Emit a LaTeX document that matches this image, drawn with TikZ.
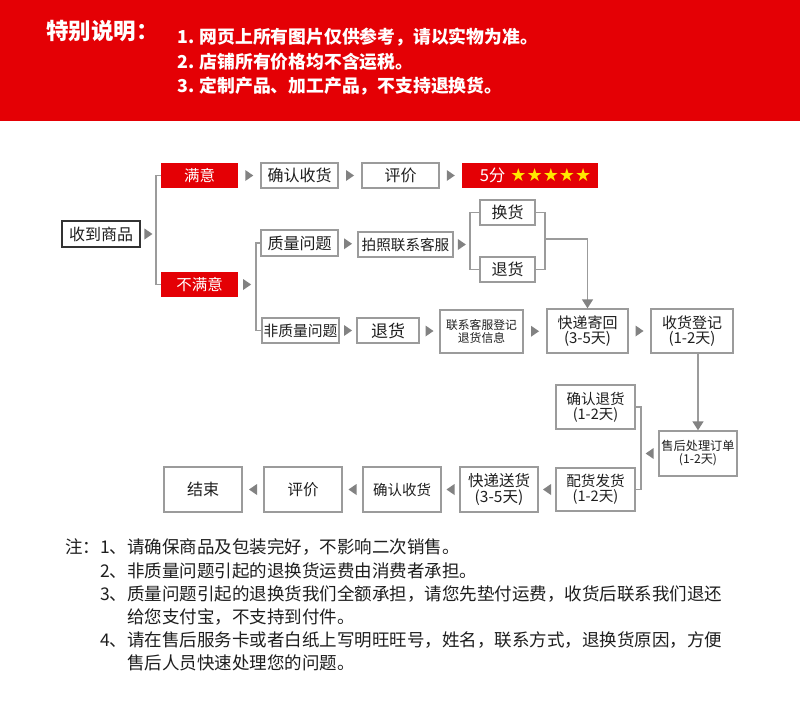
\documentclass[tikz,border=0pt]{standalone}
\usepackage{fontspec}
\setmainfont{Noto Sans CJK SC}
\newfontfamily\dejavu{DejaVu Sans}
\usetikzlibrary{arrows.meta}
\definecolor{hdred}{RGB}{228,0,5}
\definecolor{lngray}{RGB}{155,155,155}
\definecolor{tipgray}{RGB}{130,130,130}
\definecolor{txt}{RGB}{30,30,30}
\definecolor{stary}{RGB}{255,232,0}
\tikzset{
  box/.style={draw=lngray, line width=1.4pt, fill=white, text=txt, inner sep=0pt, align=center, font=\fontsize{15}{15}\selectfont},
  redbox/.style={fill=hdred, text=white, inner sep=0pt, font=\fontsize{15.5}{16}\selectfont},
  conn/.style={draw=lngray, line width=1.4pt},
  downtip/.style={-{Triangle[width=11pt,length=9pt,color=tipgray]}},
  pics/rtri/.style={code={\fill[tipgray] (-4,-5.5) -- (4,0) -- (-4,5.5) -- cycle;}},
  pics/ltri/.style={code={\fill[tipgray] (4,-5.5) -- (-4,0) -- (4,5.5) -- cycle;}},
  hdtext/.style={anchor=west, text=white, inner sep=0pt, font=\fontsize{17.8}{18}\selectfont\bfseries},
  note/.style={anchor=west, text=txt, inner sep=0pt, font=\fontsize{17.5}{18}\selectfont},
}
\begin{document}
\begin{tikzpicture}[x=1pt,y=-1pt]
\useasboundingbox (0,0) rectangle (800,704);
\fill[white] (0,0) rectangle (800,704);
% header
\fill[hdred] (0,0) rectangle (800,121);
\node[anchor=west, text=white, inner sep=0pt, font=\fontsize{22.5}{23}\selectfont\bfseries] (title) at (46,31) {特别说明：};
\node[hdtext] (h1) at (177,37) {1. 网页上所有图片仅供参考，请以实物为准。};
\node[hdtext] (h2) at (177,62) {2. 店铺所有价格均不含运税。};
\node[hdtext] (h3) at (177,86) {3. 定制产品、加工产品，不支持退换货。};

% row 1
\node[box, draw=black!80, line width=1.8pt, minimum width=78pt, minimum height=26pt, font=\fontsize{16}{16}\selectfont] (recv) at (101,234) {收到商品};
\node[redbox, minimum width=77pt, minimum height=25pt] (manyi) at (199.5,175.5) {满意};
\node[redbox, minimum width=77pt, minimum height=25pt] (buman) at (199.5,284.5) {不满意};
\node[box, minimum width=77pt, minimum height=25pt, font=\fontsize{16}{16}\selectfont] (qrsh1) at (299.5,175.5) {确认收货};
\node[box, minimum width=77pt, minimum height=25pt, font=\fontsize{16}{16}\selectfont] (pj1) at (400.5,175.5) {评价};
\node[redbox, minimum width=136pt, minimum height=25pt] (five) at (530,175.5) {\hspace*{11pt}\fontsize{16.5}{16}\selectfont 5分\hspace{5pt}{\dejavu\color{stary}\fontsize{18}{16}\selectfont ★★★★★}};

% quality branch
\node[box, minimum width=77pt, minimum height=26pt, font=\fontsize{16}{16}\selectfont] (zl) at (299.5,243) {质量问题};
\node[box, minimum width=95pt, minimum height=25pt, font=\fontsize{14.6}{15}\selectfont] (pz) at (405.5,244.5) {拍照联系客服};
\node[box, minimum width=55pt, minimum height=25pt, font=\fontsize{16}{16}\selectfont] (hh) at (507.5,212.5) {换货};
\node[box, minimum width=55pt, minimum height=25pt, font=\fontsize{16}{16}\selectfont] (th1) at (507.5,269.5) {退货};

% non-quality branch
\node[box, minimum width=77pt, minimum height=25pt, font=\fontsize{14.8}{15}\selectfont] (fzl) at (300.5,330.5) {非质量问题};
\node[box, minimum width=62pt, minimum height=25pt, font=\fontsize{17}{17}\selectfont] (th2) at (388,330.5) {退货};
\node[box, minimum width=83pt, minimum height=43pt, font=\fontsize{11.8}{13}\selectfont] (lx) at (481.5,331.5) {联系客服登记\\退货信息};
\node[box, minimum width=81pt, minimum height=44pt] (kdjh) at (587.5,331) {快递寄回\\(3-5天)};
\node[box, minimum width=82pt, minimum height=44pt] (shdj) at (692,331) {收货登记\\(1-2天)};

% return path
\node[box, minimum width=78pt, minimum height=45pt, font=\fontsize{12.2}{13}\selectfont] (shcl) at (698,453.5) {售后处理订单\\(1-2天)};
\node[box, minimum width=79pt, minimum height=44pt, font=\fontsize{14.5}{15}\selectfont] (qrth) at (595.5,407) {确认退货\\(1-2天)};
\node[box, minimum width=79pt, minimum height=43pt, font=\fontsize{14.6}{15}\selectfont] (phfh) at (595.5,489.5) {配货发货\\(1-2天)};
\node[box, minimum width=78pt, minimum height=45pt, font=\fontsize{15.5}{16}\selectfont] (kdsh) at (499,489.5) {快递送货\\(3-5天)};
\node[box, minimum width=78pt, minimum height=45pt, font=\fontsize{14.5}{15}\selectfont] (qrsh2) at (402,489.5) {确认收货};
\node[box, minimum width=78pt, minimum height=45pt, font=\fontsize{15.5}{16}\selectfont] (pj2) at (303,489.5) {评价};
\node[box, minimum width=78pt, minimum height=45pt, font=\fontsize{16}{16}\selectfont] (js) at (203,489.5) {结束};

% connectors
\coordinate (bar1) at (156,175.5);
\draw[conn] (manyi.west) -- (bar1) |- (buman.west);
\path (recv.east) -- (bar1 |- recv.east) pic[midway]{rtri};
\path (manyi.east) -- (qrsh1.west) pic[midway]{rtri};
\path (qrsh1.east) -- (pj1.west) pic[midway]{rtri};
\path (pj1.east) -- (five.west) pic[midway]{rtri};

\coordinate (zlbar) at (256,243);
\draw[conn] (zl.west) -- (zlbar) |- (fzl.west);
\path (buman.east) -- (zlbar |- buman.east) pic[midway]{rtri};
\path (zl.east) -- (pz.west) pic[midway]{rtri};

\coordinate (lbar2) at (470,212.5);
\draw[conn] (hh.west) -- (lbar2) |- (th1.west);
\path (pz.east) -- (lbar2 |- pz.east) pic[midway]{rtri};
\coordinate (rbar2) at (545,212.5);
\draw[conn] (hh.east) -- (rbar2) |- (th1.east);
\coordinate (rmid) at (545,239);
\draw[conn, downtip] (rmid) -| (kdjh.north);

\path (fzl.east) -- (th2.west) pic[midway]{rtri};
\path (th2.east) -- (lx.west) pic[midway]{rtri};
\path (lx.east) -- (kdjh.west) pic[midway]{rtri};
\path (kdjh.east) -- (shdj.west) pic[midway]{rtri};

\draw[conn, downtip] (shcl.north |- shdj.south) -- (shcl.north);

\coordinate (thbar) at (641,407);
\draw[conn] (qrth.east) -- (thbar) |- (phfh.east);
\path (shcl.west) -- (thbar |- shcl.west) pic[midway]{ltri};
\path (phfh.west) -- (kdsh.east) pic[midway]{ltri};
\path (kdsh.west) -- (qrsh2.east) pic[midway]{ltri};
\path (qrsh2.west) -- (pj2.east) pic[midway]{ltri};
\path (pj2.west) -- (js.east) pic[midway]{ltri};

% notes
\node[note] (n1) at (65,547) {注：1、请确保商品及包装完好，不影响二次销售。};
\node[note] (n2) at (100,571) {2、非质量问题引起的退换货运费由消费者承担。};
\node[note] (n3) at (100,594) {3、质量问题引起的退换货我们全额承担，请您先垫付运费，收货后联系我们退还};
\node[note] (n3b) at (127,617) {给您支付宝，不支持到付件。};
\node[note] (n4) at (100,640) {4、请在售后服务卡或者白纸上写明旺旺号，姓名，联系方式，退换货原因，方便};
\node[note] (n4b) at (127,663) {售后人员快速处理您的问题。};
\end{tikzpicture}
\end{document}
